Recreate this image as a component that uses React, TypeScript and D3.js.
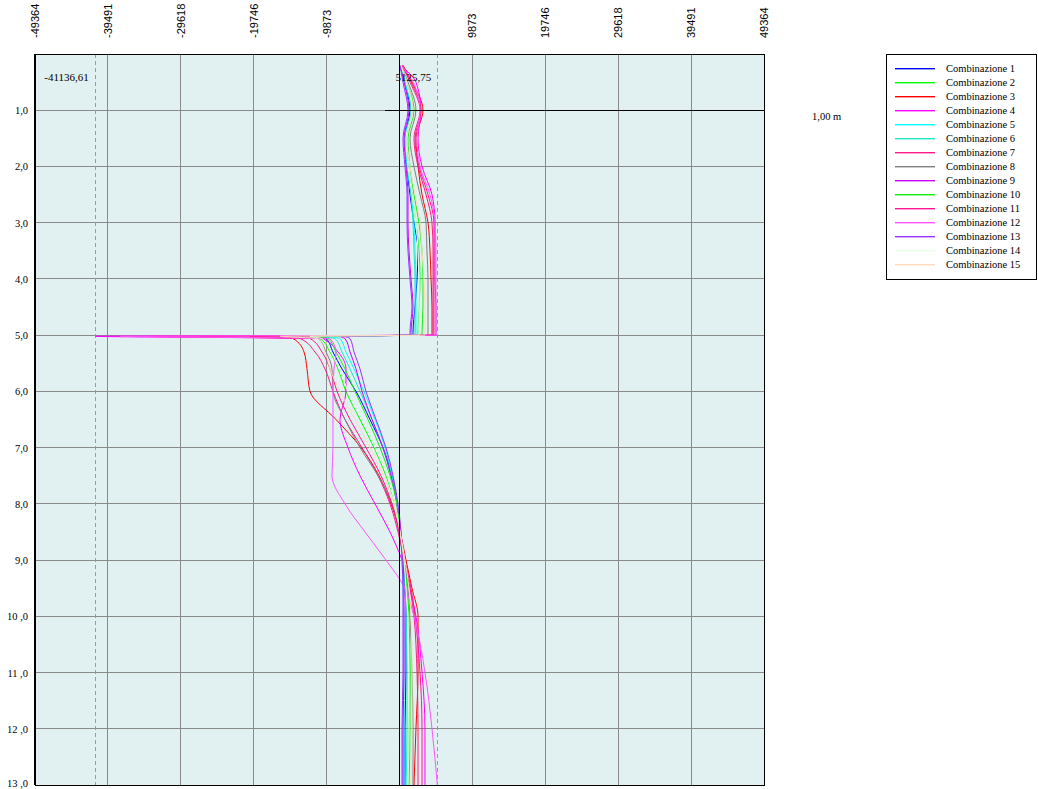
import React, { useEffect, useRef } from 'react'
import * as d3 from 'd3'

// depth (m) of each sample, shared by all combinations
const depths = [0.2, 0.5, 1.0, 1.5, 2.0, 2.5, 3.0, 3.5, 4.0, 4.5, 4.95, 5.0, 5.02, 5.06, 5.3, 5.6, 6.0, 6.5, 7.0, 7.5, 8.0, 8.5, 9.0, 9.5, 10.0, 11.0, 12.0, 13.0]

const comb1 = [200, 740, 1420, 740, 1020, 1420, 1960, 2510, 2370, 2100, 1830, 1830, -13480, -9950, -9010, -7790, -5890, -4000, -2240, -1020, -340, 70, 470, 740, 880, 880, 740, 740]
const comb2 = [200, 880, 1690, 880, 1150, 1690, 2230, 2640, 2780, 2640, 2510, 2510, -12800, -10770, -9410, -8330, -7250, -5350, -3450, -1830, -610, 70, 610, 1020, 1150, 1420, 1290, 1150]
const comb3 = [470, 1690, 3180, 2230, 2510, 3050, 3860, 4130, 4270, 4400, 4400, 4400, -20250, -14420, -12930, -12530, -12120, -8600, -5210, -2780, -1150, 70, 880, 1690, 2510, 2510, 2230, 1960]
const comb4 = [70, 2230, 2910, 2510, 3050, 4400, 4810, 4810, 4810, 4940, 4940, 4940, -41136.61, -10500, -8330, -7250, -7250, -8060, -6980, -5350, -3320, -1290, 340, 1420, 2230, 3050, 3450, 3450]
const comb5 = [200, 740, 1560, 740, 1020, 1560, 1960, 2100, 2230, 2230, 2230, 2230, -9410, -8060, -7250, -6160, -4810, -3320, -1960, -1020, -340, 70, 340, 470, 610, 610, 610, 610]
const comb6 = [200, 880, 1560, 880, 1150, 1560, 1830, 1960, 2100, 2100, 2100, 2100, -10770, -8740, -7790, -6700, -5350, -3720, -2240, -1150, -340, 70, 470, 740, 880, 1020, 1020, 880]
const comb7 = [340, 1420, 2780, 1960, 2510, 3590, 4400, 4540, 4540, 4540, 4540, 4540, -27020, -13480, -11440, -10090, -9010, -7380, -5080, -2910, -1290, -200, 610, 1420, 1960, 2370, 2510, 2510]
const comb8 = [200, 1150, 2230, 1420, 1960, 2780, 3590, 3720, 3860, 3860, 3860, 3860, -14830, -11040, -9950, -9140, -9010, -7380, -5350, -2910, -1020, -70, 610, 1150, 1420, 1690, 1830, 1830]
const comb9 = [70, 610, 1290, 610, 880, 1150, 1150, 1290, 1560, 1830, 1560, 1560, -8060, -7380, -6700, -5890, -5080, -3720, -2240, -1150, -340, 200, 470, 610, 610, 610, 470, 470]
const comb10 = [200, 1020, 1960, 1150, 1420, 1960, 2640, 3050, 3180, 3180, 3050, 3050, -12120, -9680, -8600, -7380, -6030, -4270, -2640, -1290, -340, 70, 610, 1020, 1290, 1420, 1420, 1290]
const comb11 = [340, 1560, 2910, 2100, 2640, 3860, 4670, 4670, 4670, 4670, 4670, 4670, -33790, -12120, -10500, -9410, -8460, -6700, -4540, -2510, -1020, -70, 740, 1560, 2100, 2780, 3050, 3050]
const comb12 = [200, 1830, 2780, 2370, 2780, 4130, 4810, 4940, 4940, 4940, 4940, 4940, -37850, -9410, -8600, -8870, -9010, -9010, -9010, -9140, -7380, -4670, -1830, 740, 1960, 3450, 4400, 5125.75]
const comb13 = [70, 470, 1150, 470, 740, 1020, 1020, 1150, 1420, 1690, 1420, 1420, -7380, -6700, -6160, -5350, -4540, -3180, -1830, -880, -200, 200, 340, 470, 470, 470, 340, 340]
const comb14 = [200, 880, 1690, 880, 1150, 1690, 2230, 2510, 2640, 2640, 2640, 2640, -12120, -10500, -9280, -8190, -6980, -5080, -3320, -1690, -610, 70, 610, 880, 1150, 1290, 1290, 1150]
const comb15 = [200, 1020, 1830, 1020, 1420, 2100, 2780, 3050, 3320, 3450, 3450, 3450, -16180, -11040, -10090, -9410, -8060, -6030, -4000, -2100, -750, 70, 740, 1290, 1560, 1690, 1690, 1560]

const seriesValues = [comb1, comb2, comb3, comb4, comb5, comb6, comb7, comb8, comb9, comb10, comb11, comb12, comb13, comb14, comb15]
const seriesNames = seriesValues.map((_, i) => `Combinazione ${i + 1}`)
const seriesColors = ['#0000ff', '#00ff00', '#ff0000', '#ff00ff', '#00ffff', '#1ee6c8', '#ff1a8c', '#808080', '#cc00ff', '#11ee11', '#ff1493', '#ff55ff', '#9933ff', '#e6ffe6', '#ffdabf']

const xTicks = [-49364, -39491, -29618, -19746, -9873, 9873, 19746, 29618, 39491, 49364]
const depthTicks = [1, 2, 3, 4, 5, 6, 7, 8, 9, 10, 11, 12, 13]
const depthLabels = ['1,0', '2,0', '3,0', '4,0', '5,0', '6,0', '7,0', '8,0', '9,0', '10 ,0', '11 ,0', '12 ,0', '13 ,0']
const minValue = -41136.61
const maxValue = 5125.75
const minLabel = '-41136,61'
const maxLabel = '5125,75'
const markerDepth = 1.0
const markerLabel = '1,00 m'

export default function App() {
  const ref = useRef(null)

  useEffect(() => {
    const svg = d3.select(ref.current)
    svg.selectAll('*').remove()

    const left = 35
    const right = 764
    const top = 54
    const bottom = 785

    const x = d3.scaleLinear().domain([-49364, 49364]).range([left, right])
    const y = d3.scaleLinear().domain([0, 13]).range([top, bottom])
    const serif = 'Liberation Serif, Times New Roman, serif'

    // background
    svg.append('rect')
      .attr('x', left).attr('y', top)
      .attr('width', right - left).attr('height', bottom - top)
      .attr('fill', '#e1f0f0')

    // grid
    const grid = svg.append('g').attr('shape-rendering', 'crispEdges')
    xTicks.forEach(t => {
      grid.append('line')
        .attr('x1', x(t)).attr('x2', x(t)).attr('y1', top).attr('y2', bottom)
        .attr('stroke', '#8a8a8a')
    })
    depthTicks.forEach(t => {
      grid.append('line')
        .attr('x1', left).attr('x2', right).attr('y1', y(t)).attr('y2', y(t))
        .attr('stroke', '#8a8a8a')
    })

    // min / max dashed lines
    ;[minValue, maxValue].forEach(v => {
      grid.append('line')
        .attr('x1', x(v)).attr('x2', x(v)).attr('y1', top).attr('y2', bottom)
        .attr('stroke', '#9a9a9a').attr('stroke-dasharray', '4,3')
    })

    // frame
    svg.append('rect')
      .attr('x', left).attr('y', top)
      .attr('width', right - left).attr('height', bottom - top)
      .attr('fill', 'none').attr('stroke', '#000').attr('shape-rendering', 'crispEdges')
    svg.append('line')
      .attr('x1', left).attr('x2', left).attr('y1', top).attr('y2', bottom)
      .attr('stroke', '#000').attr('stroke-width', 2)

    // top axis labels, rotated, reading upwards
    xTicks.forEach(t => {
      svg.append('text')
        .attr('transform', `translate(${x(t) + 4},38) rotate(-90)`)
        .attr('text-anchor', 'start')
        .attr('font-family', 'Liberation Sans, Arial, sans-serif')
        .attr('font-size', 11)
        .attr('fill', '#000')
        .text(String(t))
    })

    // depth labels
    depthTicks.forEach((t, i) => {
      svg.append('text')
        .attr('x', 28).attr('y', Math.min(y(t) + 4, 787))
        .attr('text-anchor', 'end')
        .attr('font-family', serif).attr('font-size', 10.5)
        .attr('fill', '#000')
        .text(depthLabels[i])
    })

    // curves
    const line = d3.line().x(d => x(d[1])).y(d => y(d[0])).curve(d3.curveMonotoneY)
    seriesValues.forEach((vals, i) => {
      svg.append('path')
        .datum(depths.map((d, j) => [d, vals[j]]))
        .attr('d', line)
        .attr('fill', 'none')
        .attr('stroke', seriesColors[i])
        .attr('stroke-width', 1)
    })

    // zero axis and depth marker
    svg.append('line')
      .attr('x1', x(0)).attr('x2', x(0)).attr('y1', top).attr('y2', bottom)
      .attr('stroke', '#000').attr('shape-rendering', 'crispEdges')
    svg.append('line')
      .attr('x1', x(0) - 15).attr('x2', right).attr('y1', y(markerDepth)).attr('y2', y(markerDepth))
      .attr('stroke', '#000').attr('shape-rendering', 'crispEdges')
    svg.append('text')
      .attr('x', 812).attr('y', y(markerDepth) + 10)
      .attr('font-family', serif).attr('font-size', 10.5)
      .text(markerLabel)

    // min / max labels
    svg.append('text')
      .attr('x', x(minValue) - 7).attr('y', 81)
      .attr('text-anchor', 'end')
      .attr('font-family', serif).attr('font-size', 11)
      .text(minLabel)
    svg.append('text')
      .attr('x', x(maxValue) - 6).attr('y', 81)
      .attr('text-anchor', 'end')
      .attr('font-family', serif).attr('font-size', 11)
      .text(maxLabel)

    // legend
    const lg = svg.append('g')
    lg.append('rect')
      .attr('x', 886.5).attr('y', 54.5).attr('width', 150).attr('height', 225)
      .attr('fill', '#fff').attr('stroke', '#000').attr('shape-rendering', 'crispEdges')
    seriesNames.forEach((name, i) => {
      const ly = 68 + i * 14
      lg.append('rect')
        .attr('x', 895).attr('y', ly).attr('width', 40).attr('height', 1.4)
        .attr('fill', seriesColors[i])
      lg.append('text')
        .attr('x', 946).attr('y', ly + 4)
        .attr('font-family', serif).attr('font-size', 10.5)
        .text(name)
    })
  }, [])

  return (
    <svg ref={ref} width={1038} height={789}
      style={{ position: 'absolute', left: 0, top: 0, background: '#fff' }} />
  )
}
